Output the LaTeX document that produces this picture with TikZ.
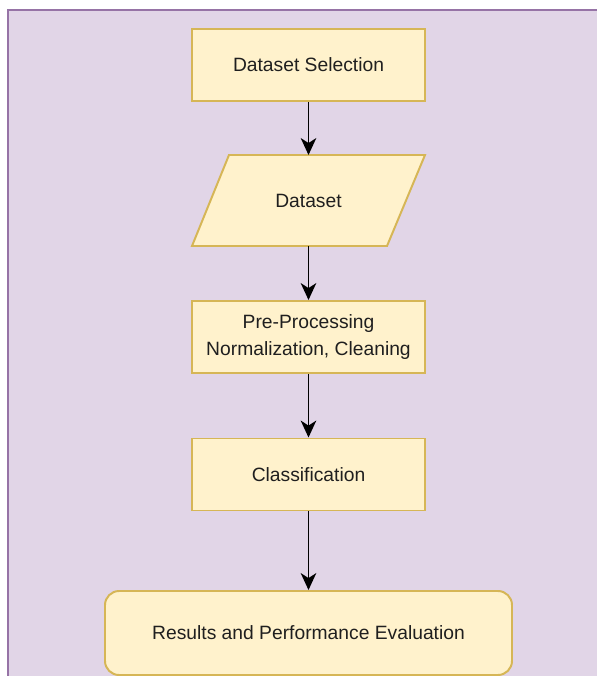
\documentclass[tikz,border=0pt]{standalone}
\usepackage{fontspec}
\setmainfont{Liberation Sans}
\usetikzlibrary{arrows.meta}

\definecolor{lilac}{HTML}{E1D5E7}
\definecolor{lilacline}{HTML}{9673A6}
\definecolor{cream}{HTML}{FFF2CC}
\definecolor{creamline}{HTML}{D6B656}

\tikzset{
  stepbox/.style={draw=creamline, fill=cream, line width=1.4pt, minimum width=233*0.025cm, minimum height=72*0.025cm, align=center, text=black!88},
  endbox/.style={stepbox, rounded corners=10pt, minimum width=407*0.025cm, minimum height=84*0.025cm},
  flow/.style={-{Stealth[length=12pt,width=11pt,inset=3.5pt]}, line width=1.4pt}
}

\begin{document}
\begin{tikzpicture}[x=0.025cm, y=-0.025cm, font=\fontsize{13.7}{19.2}\selectfont]
  \useasboundingbox (0,0) rectangle (597,676);

  % Background panel
  \draw[lilacline, fill=lilac, line width=1.4pt] (8,10) rectangle (640,720);

  % Boxes of the flow
  \node[stepbox] (select) at (308.5,65) {Dataset Selection};

  \draw[draw=creamline, fill=cream, line width=1.4pt] (229,155) -- (425,155) -- (387,246) -- (192,246) -- cycle;
  \node[text=black!88] (dataset) at (308.5,200.5) {Dataset};
  \coordinate (dtop) at (308.5,155);
  \coordinate (dbot) at (308.5,246);

  \node[stepbox] (prep) at (308.5,337) {Pre-Processing\\Normalization, Cleaning};
  \node[stepbox] (classify) at (308.5,474.5) {Classification};
  \node[endbox] (results) at (308.5,633) {Results and Performance Evaluation};

  % Connectors
  \draw[flow] (select) -- (dtop);
  \draw[flow] (dbot) -- (prep);
  \draw[flow] (prep) -- (classify);
  \draw[flow] (classify) -- (results);
\end{tikzpicture}
\end{document}
